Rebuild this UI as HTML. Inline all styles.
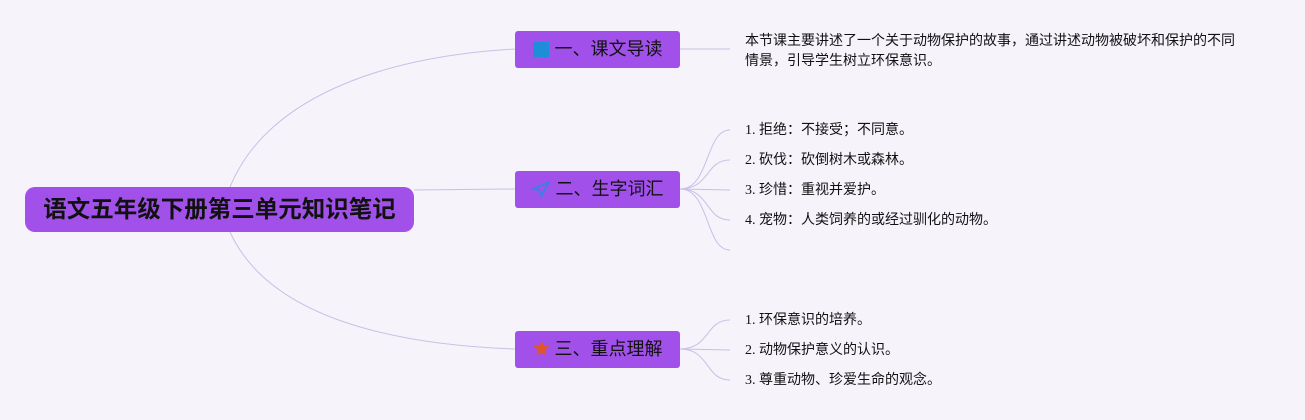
<!DOCTYPE html>
<html><head><meta charset="utf-8"><style>
body{margin:0;width:1305px;height:420px;background:#f6f3fb;position:relative;overflow:hidden;font-family:"Liberation Sans","Noto Sans CJK SC",sans-serif;}
.root{position:absolute;left:25px;top:187px;width:389px;height:45px;background:#a151ea;border-radius:10px;color:#111;font-weight:bold;font-size:23.5px;line-height:45px;text-align:center;}
.br{position:absolute;left:515px;width:165px;height:37px;background:#a151ea;border-radius:3px;color:#111;font-size:18px;line-height:37px;text-align:center;}
.t{position:absolute;left:745px;font-size:14px;color:#111;line-height:20px;font-family:"Liberation Serif","Noto Sans CJK SC",serif;white-space:nowrap;}
</style></head><body>
<svg width="1305" height="420" style="position:absolute;left:0;top:0" fill="none" stroke="#c9c0e6" stroke-width="1">
<path d="M230 187 C270 90 400 55 515 49"/>
<path d="M414 190 L515 189"/>
<path d="M230 232 C270 320 400 345 515 349"/>
<path d="M680 49 L730 49"/>
<path d="M680 189 C710 189 705 130 730 130"/>
<path d="M680 189 C710 189 705 160 730 160"/>
<path d="M680 189 L730 190"/>
<path d="M680 189 C710 189 705 220 730 220"/>
<path d="M680 189 C710 189 705 250 730 250"/>
<path d="M680 349 C710 349 705 320 730 320"/>
<path d="M680 349 L730 350"/>
<path d="M680 349 C710 349 705 380 730 380"/>
</svg>
<div class="root">语文五年级下册第三单元知识笔记</div>
<div class="br" style="top:31px"><span style="display:inline-block;width:16px;height:15px;background:#1e8fd6;vertical-align:-2px;margin-right:6px"></span>一、课文导读</div>
<div class="br" style="top:171px"><svg width="18" height="16" viewBox="0 0 18 16" style="vertical-align:-2px;margin-right:6px"><path d="M17 1 L1 8 L7 9 L9 15 Z" fill="none" stroke="#3d7fe0" stroke-width="2"/></svg>二、生字词汇</div>
<div class="br" style="top:331px"><span style="color:#e0552a;margin-right:4px">★</span>三、重点理解</div>
<div class="t" style="top:32px">本节课主要讲述了一个关于动物保护的故事，通过讲述动物被破坏和保护的不同<br>情景，引导学生树立环保意识。</div>
<div class="t" style="top:121px">1. 拒绝：不接受；不同意。</div>
<div class="t" style="top:151px">2. 砍伐：砍倒树木或森林。</div>
<div class="t" style="top:181px">3. 珍惜：重视并爱护。</div>
<div class="t" style="top:211px">4. 宠物：人类饲养的或经过驯化的动物。</div>
<div class="t" style="top:311px">1. 环保意识的培养。</div>
<div class="t" style="top:341px">2. 动物保护意义的认识。</div>
<div class="t" style="top:371px">3. 尊重动物、珍爱生命的观念。</div>
</body></html>
